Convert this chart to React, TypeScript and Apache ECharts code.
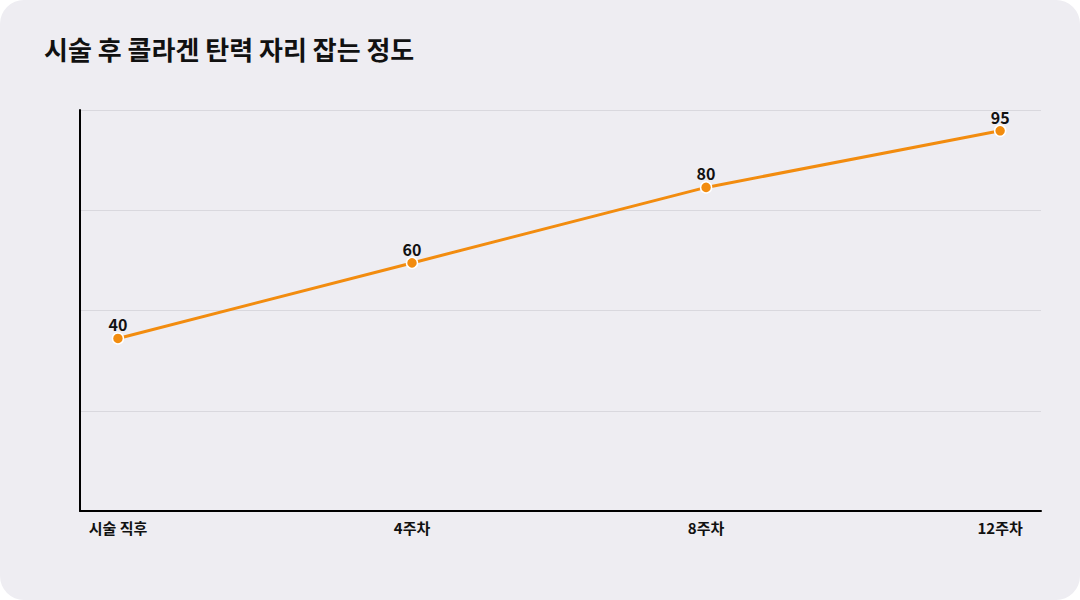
import React, { useEffect, useRef } from "react";
import * as echarts from "echarts";

const title = "시술 후 콜라겐 탄력 자리 잡는 정도";
const categories = ["시술 직후", "4주차", "8주차", "12주차"];
const values = [40, 60, 80, 95];

export default function App() {
  const ref = useRef<HTMLDivElement>(null);
  useEffect(() => {
    if (!ref.current) return;
    const chart = echarts.init(ref.current, null, { renderer: "svg" });
    const font = "'Noto Sans CJK KR', 'Noto Sans', sans-serif";
    chart.setOption({
      animation: false,
      backgroundColor: "transparent",
      textStyle: { fontFamily: font },
      title: {
        text: title,
        left: 39,
        top: 30,
        textStyle: { fontSize: 26, fontWeight: "bold", color: "#111111", fontFamily: font },
      },
      grid: { left: 80, right: 39, top: 110, bottom: 89, containLabel: false },
      xAxis: {
        type: "value",
        min: -0.129,
        max: 3.139,
        axisLine: { show: true, onZero: false, lineStyle: { color: "#000000", width: 2 } },
        axisTick: { show: false },
        splitLine: { show: false },
        axisLabel: {
          customValues: [0, 1, 2, 3],
          formatter: (v: number) => categories[Math.round(v)] ?? "",
          fontSize: 15,
          fontWeight: "bold",
          color: "#111111",
          margin: 9,
          fontFamily: font,
        },
      },
      yAxis: [
        {
          type: "value",
          min: -5.7,
          max: 100.5,
          axisLine: { show: true, onZero: false, lineStyle: { color: "#000000", width: 2 } },
          axisTick: { show: false },
          axisLabel: { show: false },
          splitLine: { show: false },
        },
        {
          type: "value",
          min: 0,
          max: 4,
          interval: 1,
          position: "left",
          axisLine: { show: false },
          axisTick: { show: false },
          axisLabel: { show: false },
          splitLine: { show: true, lineStyle: { color: "#d9d8de", width: 1 } },
        },
      ],
      series: [
        {
          type: "line",
          yAxisIndex: 0,
          data: values.map((v, i) => [i, v]),
          lineStyle: { color: "#F28C0F", width: 3 },
          itemStyle: { color: "#F28C0F", borderColor: "#ffffff", borderWidth: 1.5 },
          symbol: "circle",
          symbolSize: 11,
          label: {
            show: true,
            position: "top",
            distance: 0,
            fontSize: 16,
            fontWeight: "bold",
            color: "#111111",
            fontFamily: font,
          },
        },
      ],
    });
    return () => chart.dispose();
  }, []);
  return (
    <div
      style={{
        position: "fixed",
        left: 0,
        top: 0,
        width: 1080,
        height: 600,
        background: "#ffffff",
      }}
    >
      <div
        style={{
          width: 1080,
          height: 600,
          background: "#EEEDF2",
          borderRadius: 24,
          overflow: "hidden",
        }}
      >
        <div ref={ref} style={{ width: 1080, height: 600 }} />
      </div>
    </div>
  );
}
